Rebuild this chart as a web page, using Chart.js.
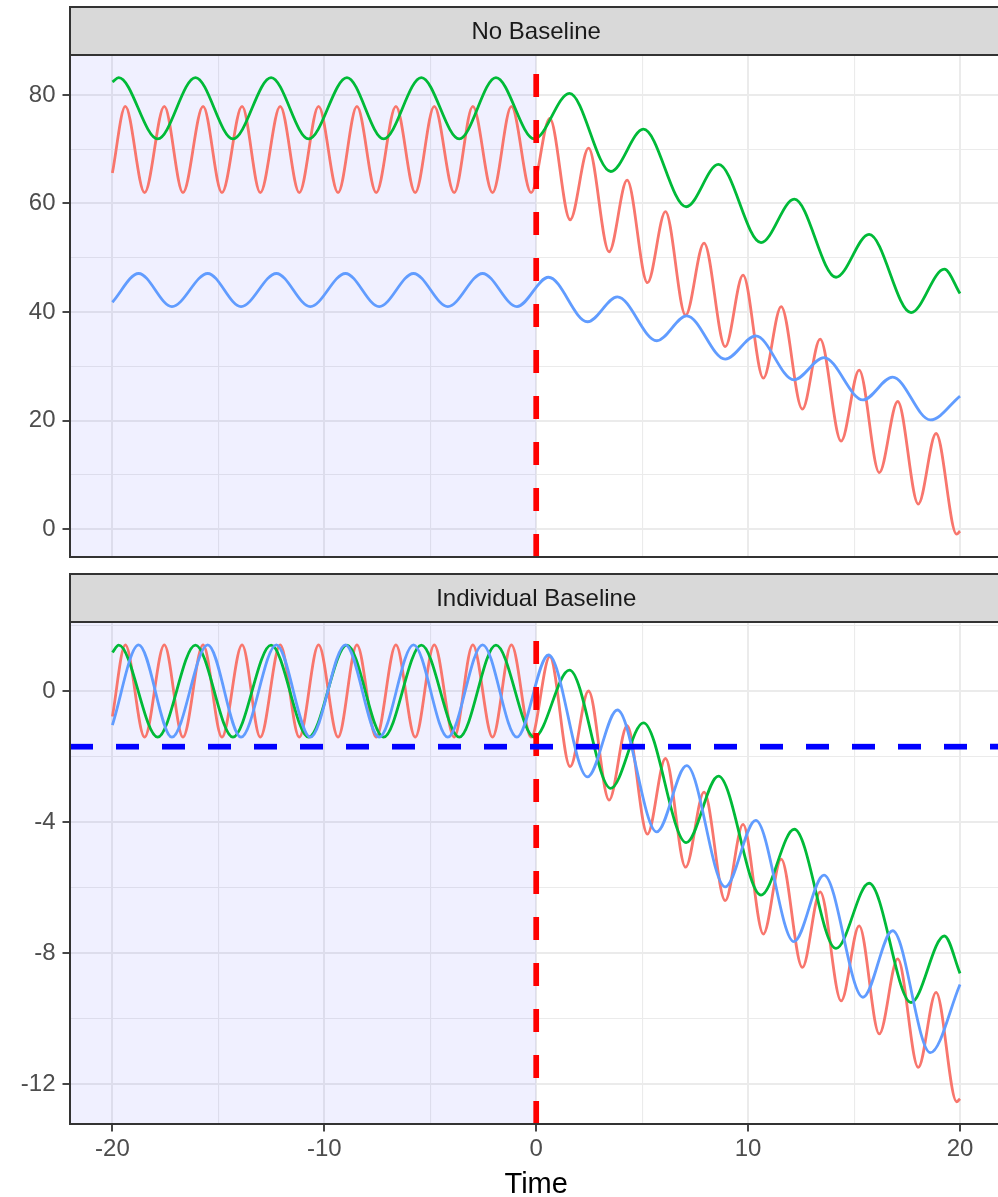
<!DOCTYPE html>
<html>
<head>
<meta charset="utf-8">
<title>No Baseline / Individual Baseline</title>
<script src="https://cdn.jsdelivr.net/npm/chart.js@4.4.1/dist/chart.umd.min.js"></script>
<style>
  html, body { margin: 0; padding: 0; background: #fff; overflow: hidden; }
  #figure { position: relative; width: 1010px; height: 1197px; }
  #figure canvas { position: absolute; left: 0; }
  #topPanel { top: 0; }
  #bottomPanel { top: 560px; }
</style>
</head>
<body>
<div id="figure">
  <canvas id="topPanel" width="1010" height="580"></canvas>
  <canvas id="bottomPanel" width="1010" height="660"></canvas>
</div>
<script>
/* ---- series: turning points of each curve (time, value) ---- */

const redTimes = [-20, -19.39, -18.48, -17.55, -16.67, -15.72, -14.83, -13.88, -13.02, -12.08, -11.18,
  -10.27, -9.35, -8.46, -7.55, -6.62, -5.71, -4.81, -3.87, -2.99, -2.06, -1.17, -0.24,
  0.64, 1.6, 2.47, 3.44, 4.29, 5.25, 6.1, 7.05, 7.92, 8.92, 9.76, 10.72, 11.56, 12.56,
  13.4, 14.39, 15.24, 16.19, 17.06, 18.03, 18.87, 19.84, 20];
const redNoBaseline = [65.6, 77.9, 62.0, 77.9, 62.0, 77.9, 62.0, 77.9, 62.0, 77.9, 62.0,
  77.9, 62.0, 77.9, 62.0, 77.9, 62.0, 77.9, 62.0, 77.9, 62.0, 77.9, 62.0,
  75.7, 57.0, 70.2, 51.1, 64.3, 45.4, 58.5, 39.4, 52.7, 33.6, 46.8, 27.8, 41.0, 22.1,
  35.0, 16.2, 29.3, 10.4, 23.5, 4.6, 17.6, -0.95, -0.4];
const redIndividual = [-0.78, 1.41, -1.41, 1.41, -1.41, 1.41, -1.41, 1.41, -1.41, 1.41, -1.41,
  1.41, -1.41, 1.41, -1.41, 1.41, -1.41, 1.41, -1.41, 1.41, -1.41, 1.41, -1.41,
  1.05, -2.31, 0.0, -3.33, -1.06, -4.37, -2.06, -5.38, -3.09, -6.40, -4.07, -7.42, -5.13, -8.44,
  -6.13, -9.46, -7.17, -10.47, -8.18, -11.49, -9.2, -12.54, -12.45];

const greenTimes = [-20, -19.7, -17.86, -16.08, -14.31, -12.51, -10.74, -8.93, -7.2, -5.42, -3.63, -1.9, -0.09,
  1.57, 3.52, 5.06, 7.08, 8.6, 10.61, 12.18, 14.15, 15.71, 17.69, 19.26, 20];
const greenNoBaseline = [82.4, 83.2, 71.9, 83.2, 71.9, 83.2, 71.9, 83.2, 71.9, 83.2, 71.9, 83.2, 71.9,
  80.3, 65.9, 73.7, 59.4, 67.2, 52.8, 60.8, 46.4, 54.3, 39.9, 47.9, 43.4];
const greenIndividual = [1.18, 1.40, -1.41, 1.40, -1.41, 1.40, -1.41, 1.40, -1.41, 1.40, -1.41, 1.40, -1.41,
  0.64, -2.97, -0.97, -4.63, -2.60, -6.23, -4.22, -7.86, -5.87, -9.51, -7.48, -8.62];

const blueTimes = [-20, -18.76, -17.19, -15.5, -13.93, -12.26, -10.66, -9.0, -7.41, -5.79, -4.17, -2.53, -0.91,
  0.58, 2.42, 3.83, 5.69, 7.1, 8.92, 10.36, 12.16, 13.58, 15.42, 16.82, 18.6, 20];
const blueNoBaseline = [41.8, 47.1, 41.0, 47.1, 41.0, 47.1, 41.0, 47.1, 41.0, 47.1, 41.0, 47.1, 41.0,
  46.4, 38.2, 42.8, 34.7, 39.3, 31.3, 35.6, 27.5, 31.6, 23.8, 28.0, 20.1, 24.5];
const blueIndividual = [-1.04, 1.41, -1.41, 1.41, -1.41, 1.41, -1.41, 1.41, -1.41, 1.41, -1.41, 1.41, -1.41,
  1.10, -2.62, -0.58, -4.30, -2.28, -5.98, -3.95, -7.65, -5.62, -9.35, -7.32, -11.04, -8.96];

// reference lines
const cutoffTime = 0;
const baselineLevel = -1.7;

/* ---- axes ---- */
const xTicks = [-20, -15, -10, -5, 0, 5, 10, 15, 20];
const xLabels = [-20, -10, 0, 10, 20];
const topTicks = [0, 10, 20, 30, 40, 50, 60, 70, 80];
const topLabels = [0, 20, 40, 60, 80];
const bottomTicks = [-12, -10, -8, -6, -4, -2, 0, 2];
const bottomLabels = [-12, -8, -4, 0];

Chart.defaults.font.family = "'Liberation Sans', Arial, sans-serif";

const toPoints = (times, values) => times.map((t, i) => ({ x: t, y: values[i] }));

function gridStyle(labelled, drawTicks) {
  const isMajor = ctx => ctx.tick && labelled.includes(ctx.tick.value);
  return {
    color: '#EBEBEB',
    lineWidth: ctx => isMajor(ctx) ? 2 : 1.1,
    drawTicks: drawTicks,
    tickLength: 7.5,
    tickWidth: 1.8,
    tickColor: ctx => isMajor(ctx) ? '#333333' : 'rgba(0,0,0,0)'
  };
}

// strip, shaded pre-period, dashed reference lines and panel border
const facetPanel = {
  id: 'facetPanel',
  beforeDatasetsDraw(chart) {
    const { ctx, chartArea: a, scales: { x } } = chart;
    const x0 = x.getPixelForValue(cutoffTime);
    ctx.save();
    ctx.fillStyle = 'rgba(0, 0, 255, 0.06)';
    ctx.fillRect(a.left, a.top, x0 - a.left, a.bottom - a.top);
    ctx.restore();
  },
  afterDatasetsDraw(chart, args, opts) {
    const { ctx, chartArea: a, scales: { x, y } } = chart;
    ctx.save();
    ctx.beginPath();
    ctx.rect(a.left, a.top, a.right - a.left, a.bottom - a.top);
    ctx.clip();
    ctx.lineWidth = 5.7;
    ctx.lineCap = 'butt';
    ctx.setLineDash([23, 23]);

    const x0 = x.getPixelForValue(cutoffTime);
    ctx.strokeStyle = '#FF0000';
    ctx.beginPath();
    ctx.moveTo(x0, a.bottom);
    ctx.lineTo(x0, a.top);
    ctx.stroke();

    if (opts.hline !== null) {
      const y0 = y.getPixelForValue(opts.hline);
      ctx.strokeStyle = '#0000FF';
      ctx.beginPath();
      ctx.moveTo(a.left, y0);
      ctx.lineTo(a.right, y0);
      ctx.stroke();
    }
    ctx.restore();
  },
  afterDraw(chart, args, opts) {
    const { ctx, chartArea: a } = chart;
    const stripH = 48;
    ctx.save();
    ctx.lineWidth = 2;
    ctx.strokeStyle = '#333333';
    ctx.strokeRect(a.left, a.top, a.right - a.left, a.bottom - a.top);

    ctx.fillStyle = '#D9D9D9';
    ctx.fillRect(a.left, a.top - stripH, a.right - a.left, stripH);
    ctx.strokeRect(a.left, a.top - stripH, a.right - a.left, stripH);

    ctx.fillStyle = '#1A1A1A';
    ctx.font = "24px 'Liberation Sans', Arial, sans-serif";
    ctx.textAlign = 'center';
    ctx.textBaseline = 'middle';
    ctx.fillText(opts.strip, (a.left + a.right) / 2, a.top - stripH / 2 + 1);
    ctx.restore();
  }
};

function makePanel(canvasId, p) {
  const line = (label, points, color, order) => ({
    label: label,
    data: points,
    borderColor: color,
    borderWidth: 2.8,
    pointRadius: 0,
    fill: false,
    cubicInterpolationMode: 'monotone',
    order: order
  });

  return new Chart(document.getElementById(canvasId), {
    type: 'line',
    data: {
      datasets: [
        line('red', p.red, '#F8766D', 3),
        line('green', p.green, '#00BA38', 2),
        line('blue', p.blue, '#619CFF', 1)
      ]
    },
    options: {
      responsive: false,
      animation: false,
      events: [],
      layout: { padding: p.padding },
      plugins: {
        legend: { display: false },
        tooltip: { enabled: false },
        facetPanel: { strip: p.strip, hline: p.hline }
      },
      scales: {
        x: {
          type: 'linear',
          min: -22,
          max: 22,
          afterBuildTicks: axis => { axis.ticks = xTicks.map(v => ({ value: v })); },
          afterFit: axis => { axis.height = p.showX ? 96 : 0; },
          border: { display: false },
          grid: gridStyle(xLabels, p.showX),
          ticks: {
            display: p.showX,
            autoSkip: false,
            maxRotation: 0,
            padding: 3,
            color: '#4D4D4D',
            font: { size: 24 },
            callback: v => xLabels.includes(v) ? String(v) : ''
          },
          title: {
            display: p.showX,
            text: 'Time',
            color: '#000000',
            font: { size: 29 },
            padding: { top: 0, bottom: 18 }
          }
        },
        y: {
          type: 'linear',
          min: p.yMin,
          max: p.yMax,
          afterBuildTicks: axis => { axis.ticks = p.yTicks.map(v => ({ value: v })); },
          afterFit: axis => { axis.width = 70; },
          border: { display: false },
          grid: gridStyle(p.yLabels, true),
          ticks: {
            autoSkip: false,
            padding: 7,
            color: '#4D4D4D',
            font: { size: 24 },
            callback: v => p.yLabels.includes(v) ? String(v) : ''
          }
        }
      }
    },
    plugins: [facetPanel]
  });
}

makePanel('topPanel', {
  strip: 'No Baseline',
  red: toPoints(redTimes, redNoBaseline),
  green: toPoints(greenTimes, greenNoBaseline),
  blue: toPoints(blueTimes, blueNoBaseline),
  yMin: -5.16,
  yMax: 87.37,
  yTicks: topTicks,
  yLabels: topLabels,
  hline: null,
  showX: false,
  padding: { top: 55, right: 7.6, bottom: 23, left: 0 }
});

makePanel('bottomPanel', {
  strip: 'Individual Baseline',
  red: toPoints(redTimes, redIndividual),
  green: toPoints(greenTimes, greenIndividual),
  blue: toPoints(blueTimes, blueIndividual),
  yMin: -13.22,
  yMax: 2.107,
  yTicks: bottomTicks,
  yLabels: bottomLabels,
  hline: baselineLevel,
  showX: true,
  padding: { top: 62, right: 7.6, bottom: 0, left: 0 }
});
</script>
</body>
</html>
